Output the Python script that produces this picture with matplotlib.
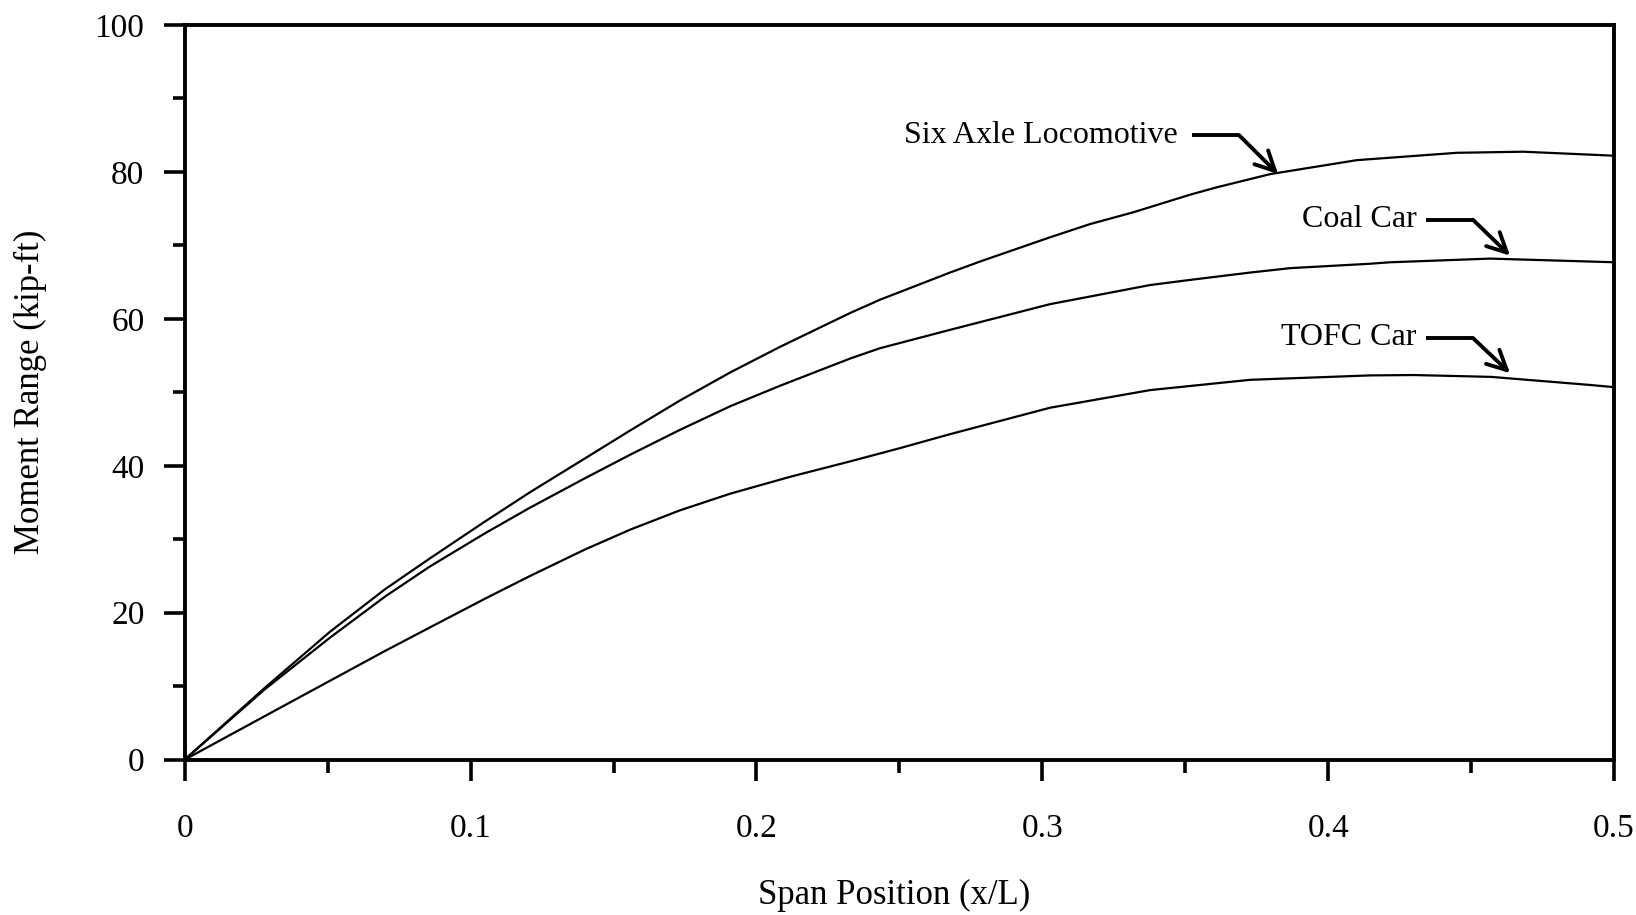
import numpy as np
import matplotlib.pyplot as plt
from matplotlib.ticker import MultipleLocator, FixedLocator, FixedFormatter

plt.rcParams['font.family'] = ['Liberation Serif', 'DejaVu Serif']

# span position (x/L) and moment range (kip-ft)
x_six = [0, 0.0281, 0.0508, 0.0701, 0.0858, 0.105, 0.1208, 0.14, 0.1558,
         0.1733, 0.1908, 0.2083, 0.2328, 0.2432, 0.2677, 0.2782, 0.3027,
         0.3167, 0.3318, 0.3517, 0.361, 0.3797, 0.41, 0.445, 0.4682,
         0.4916, 0.5]
m_six = [0, 9.8, 17.4, 23.2, 27.4, 32.4, 36.4, 41.0, 44.8,
         48.9, 52.7, 56.2, 60.8, 62.6, 66.3, 67.8, 71.1,
         72.9, 74.5, 76.9, 77.9, 79.7, 81.6, 82.6, 82.75,
         82.35, 82.2]

x_coal = [0, 0.0281, 0.0508, 0.0701, 0.0858, 0.105, 0.1208, 0.14, 0.1558,
          0.1733, 0.1908, 0.2083, 0.2328, 0.2432, 0.2677, 0.3027, 0.3202,
          0.3377, 0.3517, 0.3727, 0.3867, 0.4146, 0.4217, 0.4566, 0.4916,
          0.5]
m_coal = [0, 9.6, 16.6, 22.2, 26.3, 30.8, 34.3, 38.3, 41.5,
          44.9, 48.1, 50.9, 54.6, 56.0, 58.5, 62.0, 63.3,
          64.6, 65.3, 66.3, 66.9, 67.5, 67.7, 68.2, 67.8,
          67.7]

x_tofc = [0, 0.035, 0.0701, 0.0858, 0.105, 0.1208, 0.14, 0.1558, 0.173,
          0.1908, 0.2118, 0.2328, 0.2502, 0.2677, 0.3027, 0.3377, 0.3727,
          0.4146, 0.43, 0.457, 0.4916, 0.5]
m_tofc = [0, 7.4, 14.8, 18.0, 21.9, 25.0, 28.6, 31.3, 33.9,
          36.2, 38.5, 40.6, 42.4, 44.3, 47.9, 50.3, 51.7,
          52.3, 52.35, 52.1, 51.0, 50.7]

series_names = ['Six Axle Locomotive', 'Coal Car', 'TOFC Car']

x_ticks = [0, 0.1, 0.2, 0.3, 0.4, 0.5]
x_ticklabels = ['0', '0.1', '0.2', '0.3', '0.4', '0.5']
y_ticks = [0, 20, 40, 60, 80, 100]

# label callouts: text end, start of leader, bend, arrow tip
callouts = [
    ((0.3475, 85.0), (0.3523, 85.0), (0.3688, 85.0), (0.3825, 79.7)),
    ((0.4310, 73.5), (0.4341, 73.5), (0.4506, 73.5), (0.4636, 68.6)),
    ((0.4310, 57.4), (0.4341, 57.4), (0.4506, 57.4), (0.4636, 52.6)),
]

fig = plt.figure(figsize=(16.36, 9.15), dpi=100)
ax = fig.add_axes([0.1129, 0.1698, 0.8737, 0.8029])

for xs, ms in [(x_six, m_six), (x_coal, m_coal), (x_tofc, m_tofc)]:
    ax.plot(xs, ms, color='black', lw=1.6, solid_joinstyle='round')

for name, (txt, p0, p1, tip) in zip(series_names, callouts):
    ax.text(txt[0], txt[1], name, ha='right', va='center', fontsize=23)
    ax.plot([p0[0], p1[0]], [p0[1], p1[1]], color='black', lw=2.8,
            solid_capstyle='butt')
    ax.annotate('', xy=tip, xytext=p1,
                arrowprops=dict(arrowstyle='->,head_length=0.7,head_width=0.35',
                                color='black', lw=2.8, mutation_scale=20,
                                shrinkA=0, shrinkB=0))

ax.set_xlim(0, 0.5)
ax.set_ylim(0, 100)
ax.xaxis.set_major_locator(FixedLocator(x_ticks))
ax.xaxis.set_major_formatter(FixedFormatter(x_ticklabels))
ax.xaxis.set_minor_locator(MultipleLocator(0.05))
ax.yaxis.set_major_locator(FixedLocator(y_ticks))
ax.yaxis.set_minor_locator(MultipleLocator(10))

ax.tick_params(axis='both', which='major', direction='out', length=15,
               width=2.6, labelsize=24)
ax.tick_params(axis='both', which='minor', direction='out', length=9,
               width=2.6)
ax.tick_params(axis='x', which='major', pad=24)
ax.tick_params(axis='y', which='major', pad=14)

for sp in ax.spines.values():
    sp.set_linewidth(2.8)

ax.set_xlabel('Span Position (x/L)', fontsize=25)
ax.set_ylabel('Moment Range (kip-ft)', fontsize=25)
ax.xaxis.set_label_coords(0.496, -0.162)
ax.yaxis.set_label_coords(-0.096, 0.5)

fig.savefig('out.png', dpi=100)
